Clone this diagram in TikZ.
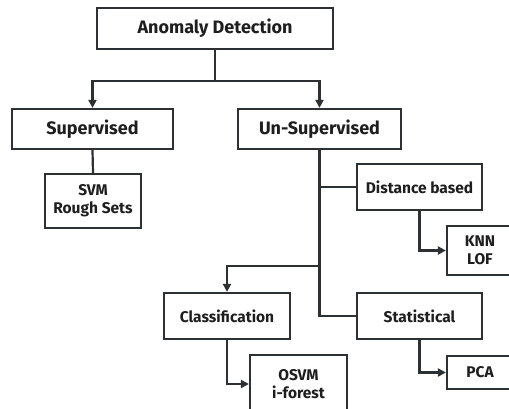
\documentclass[tikz,border=0pt]{standalone}
\usepackage{fontspec}
\setmainfont{Fira Sans}
\usetikzlibrary{positioning, arrows.meta, calc}
\definecolor{ink}{HTML}{1E1E1E}
\definecolor{frame}{HTML}{2E3133}
\tikzset{
  every node/.style = {text=ink},
  adbase/.style  = {draw=frame, line width=2.2pt, fill=white, align=center, inner sep=2pt,
                    font=\fontsize{15.5}{18}\selectfont\bfseries},
  adtop/.style   = {adbase, font=\fontsize{18}{21}\selectfont\bfseries},
  adgo/.style    = {-{Triangle[length=8pt,width=8pt]}, draw=frame, line width=2.2pt},
  adln/.style    = {draw=frame, line width=2.2pt},
}

\begin{document}
\begin{tikzpicture}[x=1pt, y=-1pt]
\useasboundingbox[fill=white] (0,0) rectangle (509,408);

\node[adtop, minimum width=236pt, minimum height=41pt] (ad)  at (215,28.5)  {Anomaly Detection};
\node[adtop, minimum width=161pt, minimum height=40pt] (sup) at (92.5,129)  {Supervised};
\node[adtop, minimum width=163pt, minimum height=40pt] (uns) at (319.5,129) {Un-Supervised};

\node[adbase, minimum width=96pt,  minimum height=54pt] (svm)  at (93,201)    {SVM\\Rough Sets};
\node[adbase, minimum width=125pt, minimum height=46pt] (dist) at (419.5,187) {Distance based};
\node[adbase, minimum width=66pt,  minimum height=49pt] (knn)  at (480,250.5) {KNN\\LOF};
\node[adbase, minimum width=126pt, minimum height=46pt] (cls)  at (227,316)   {Classification};
\node[adbase, minimum width=125pt, minimum height=46pt] (stat) at (419.5,316) {Statistical};
\node[adbase, minimum width=97pt,  minimum height=58pt] (osvm) at (298.5,384) {OSVM\\i-forest};
\node[adbase, minimum width=66pt,  minimum height=33pt] (pca)  at (480,372.5) {PCA};

\coordinate (split) at ($(ad.south)+(0,31)$);
\coordinate (fork)  at (uns.south |- 0,266);

\draw[adln] (ad.south) -- (split);
\draw[adgo] (split) -| (sup.north);
\draw[adgo] (split) -| (uns.north);
\draw[adln] (sup.south) -- (svm.north);
\draw[adln] (uns.south) |- (stat.west);
\draw[adln] (uns.south |- dist.west) -- (dist.west);
\draw[adgo] (fork) -| (cls.north);
\draw[adgo] (cls.south) |- (osvm.west);
\draw[adgo] (dist.south) |- (knn.west);
\draw[adgo] (stat.south) |- (pca.west);
\end{tikzpicture}
\end{document}
